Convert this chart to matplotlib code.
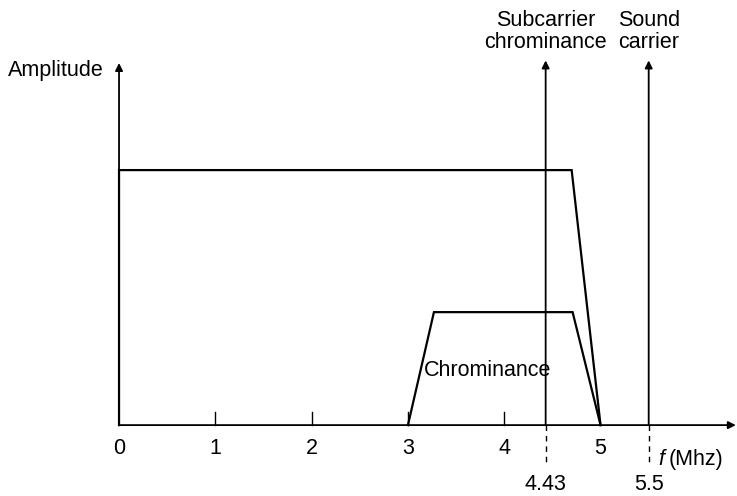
import matplotlib.pyplot as plt

plt.rcParams['font.family'] = ['Liberation Sans', 'DejaVu Sans']

# spectrum of the composite colour TV signal
lum_f = [0.0, 0.0, 4.70, 5.0]
lum_a = [0.0, 1.0, 1.0, 0.0]
chroma_f = [3.0, 3.27, 4.71, 5.0]
chroma_a = [0.0, 0.443, 0.443, 0.0]
carrier_f = [4.43, 5.5]
carrier_labels = ["Subcarrier\nchrominance", "Sound\ncarrier"]
tick_f = [0, 1, 2, 3, 4, 5]

fig = plt.figure(figsize=(7.37, 4.96), dpi=100)
ax = fig.add_axes([0, 0, 1, 1])
ax.set_xlim(-1.236, 6.417)
ax.set_ylim(-0.278, 1.667)
ax.axis('off')

fs = 15.5
lw = 1.3
arr = dict(arrowstyle='-|>', mutation_scale=11, lw=lw, color='k',
           shrinkA=0, shrinkB=0)

# axes with arrows
ax.annotate('', xy=(6.405, 0), xytext=(0, 0), arrowprops=arr)
ax.annotate('', xy=(0, 1.42), xytext=(0, 0), arrowprops=arr)

# small ticks
for t in tick_f[1:5]:
    ax.plot([t, t], [0, 0.05], color='k', lw=1.0)
for t in tick_f:
    ax.text(t, -0.09, str(t), ha='center', va='center', fontsize=fs)

# signal shapes
ax.plot(lum_f, lum_a, color='k', lw=1.6, solid_joinstyle='miter')
ax.plot(chroma_f, chroma_a, color='k', lw=1.6, solid_joinstyle='miter')
ax.text(3.17, 0.216, "Chrominance", ha='left', va='center', fontsize=fs)

# carriers
for f, lab in zip(carrier_f, carrier_labels):
    ax.annotate('', xy=(f, 1.43), xytext=(f, 0), arrowprops=arr)
    ax.plot([f, f], [0, -0.15], color='k', lw=1.0, ls=(0, (4, 3.5)))
    ax.text(f, -0.232, str(f), ha='center', va='center', fontsize=fs)
    ax.text(f, 1.545, lab, ha='center', va='center', fontsize=fs,
            linespacing=1.05)

ax.text(-1.15, 1.39, "Amplitude", ha='left', va='center', fontsize=fs)
ax.text(5.6, -0.135, "f", ha='left', va='center', fontsize=fs,
        fontstyle='italic')
ax.text(5.71, -0.135, "(Mhz)", ha='left', va='center', fontsize=fs)

plt.savefig("out.png", dpi=100)
